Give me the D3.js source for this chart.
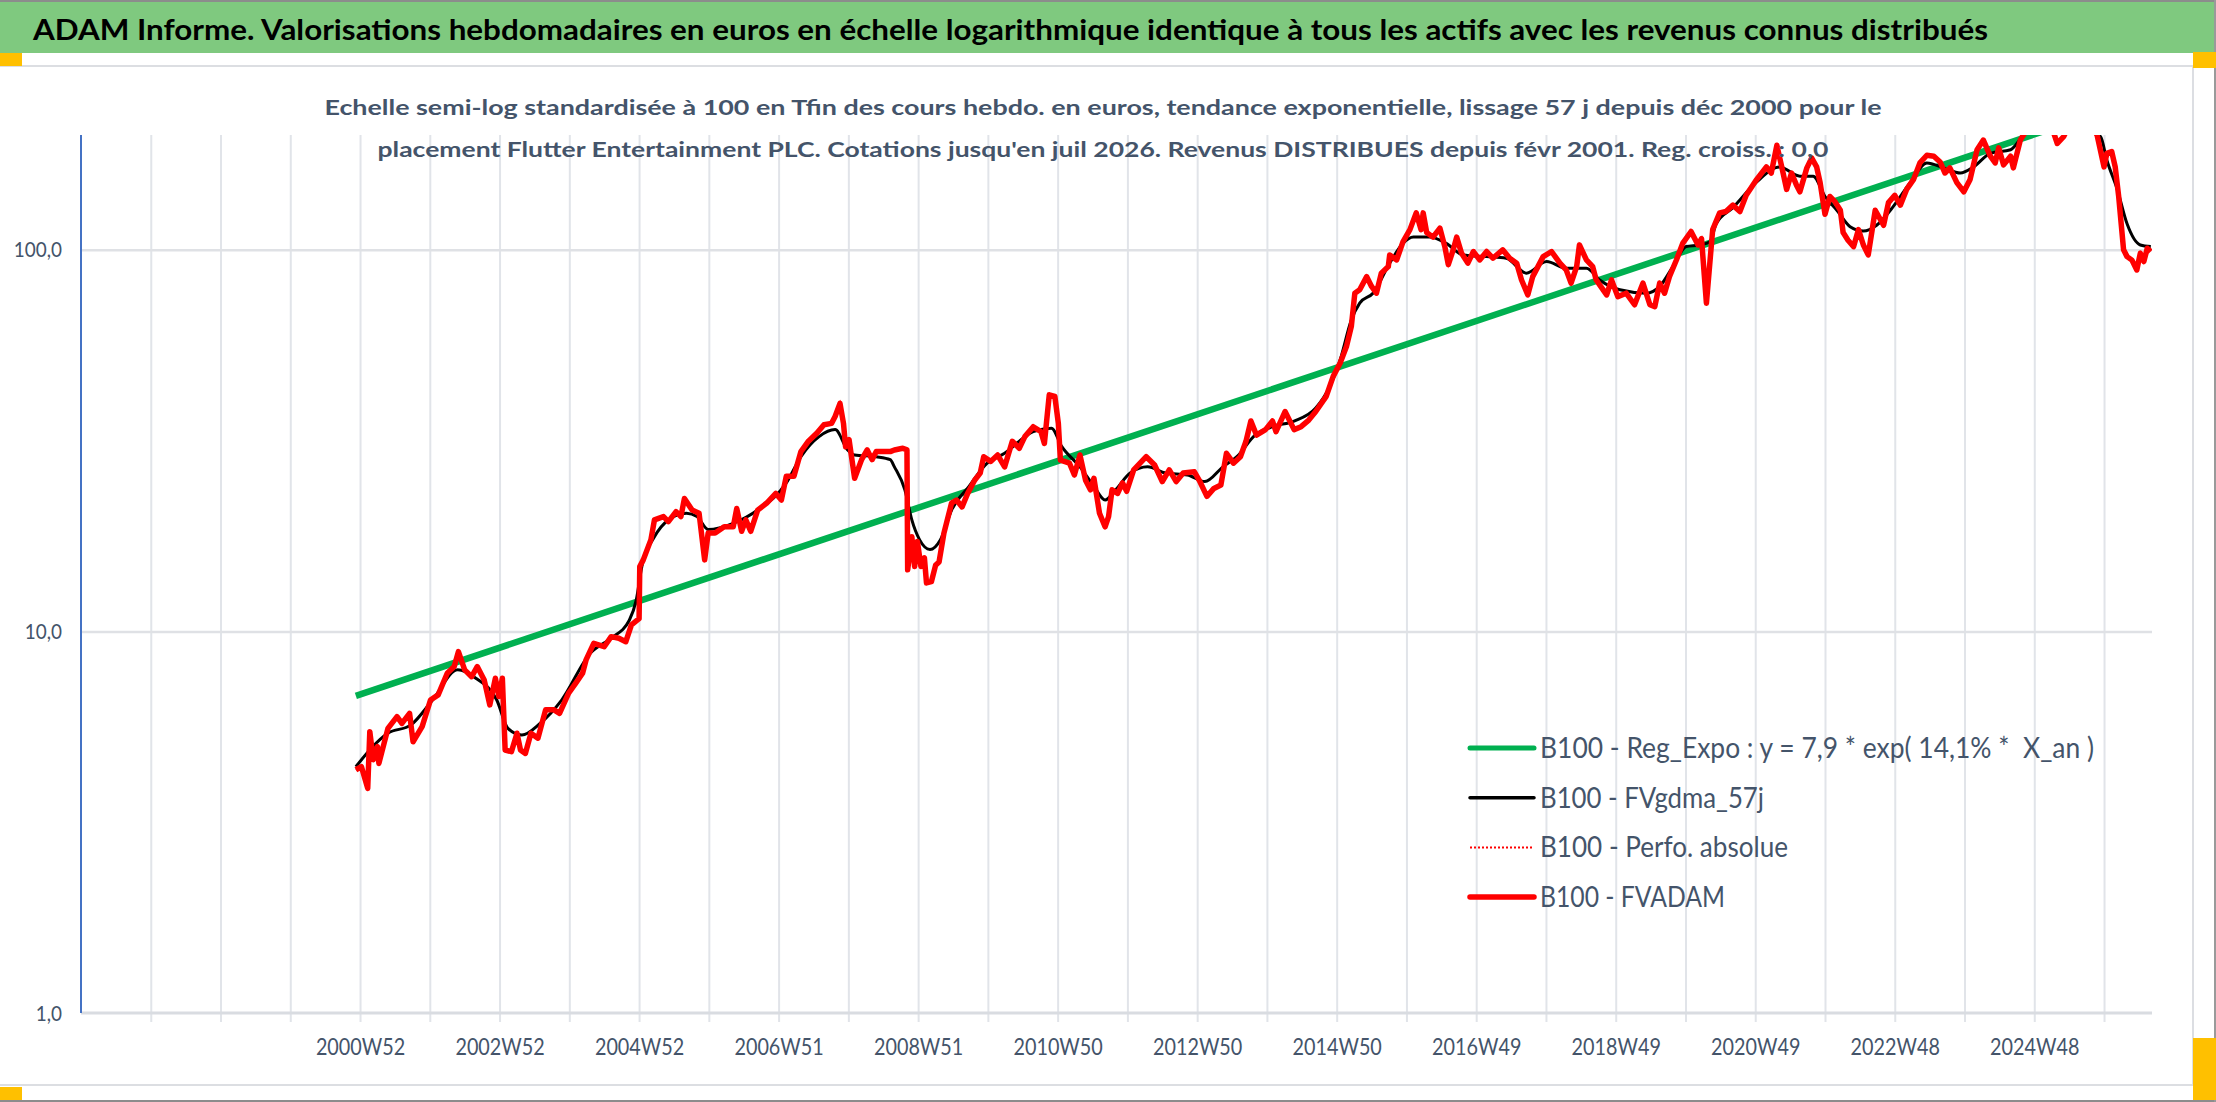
<!DOCTYPE html>
<html>
<head>
<meta charset="utf-8">
<script src="https://cdn.jsdelivr.net/npm/d3@7"></script>
<style>
  body { margin: 0; background: #fff; }
  svg { display: block; font-family: Lato, "Open Sans", sans-serif; }
</style>
</head>
<body>
<script>
// ---- data (year as decimal, value on base 100) ----
var titleText = "ADAM Informe. Valorisations hebdomadaires en euros en échelle logarithmique identique à tous les actifs avec les revenus connus distribués";
var subtitleLines = [
    "Echelle semi-log standardisée à 100 en Tfin des cours hebdo. en euros, tendance exponentielle, lissage 57 j depuis déc 2000 pour le",
    "placement Flutter Entertainment PLC. Cotations jusqu'en juil 2026. Revenus DISTRIBUES depuis févr 2001. Reg. croiss. : 0,0"
];
var tickYears = [2001, 2003, 2005, 2007, 2009, 2011, 2013, 2015, 2017, 2019, 2021, 2023, 2025];
var tickLabels = ["2000W52", "2002W52", "2004W52", "2006W51", "2008W51", "2010W50", "2012W50",
                  "2014W50", "2016W49", "2018W49", "2020W49", "2022W48", "2024W48"];
var gridYears = d3.range(1998, 2027);
var yTicks = [1, 10, 100];

var legendLabels = [
    "B100 - Reg_Expo : y = 7,9 * exp( 14,1% *  X_an )",
    "B100 - FVgdma_57j",
    "B100 - Perfo. absolue",
    "B100 - FVADAM"
];

// exponential trend : both ends of the straight log line
var regExpo = [[2000.94, 6.78], [2026.67, 254]];

// 57 day smoothed curve
var fvgdma = [
    [2000.94, 4.42], [2001.40, 5.41], [2001.73, 5.69], [2002.04, 6.61], [2002.40, 7.93], [2002.66, 7.54],
    [2002.96, 6.61], [2003.12, 5.57], [2003.32, 5.35], [2003.58, 5.74], [2003.89, 6.61], [2004.30, 8.77],
    [2004.60, 9.60], [2004.86, 10.7], [2004.96, 12.1], [2005.04, 14.8], [2005.22, 17.7], [2005.42, 19.6],
    [2005.68, 20.4], [2005.83, 20.0], [2005.99, 18.5], [2006.35, 19.2], [2006.70, 20.8], [2007.11, 24.5],
    [2007.32, 28.7], [2007.58, 32.4], [2007.81, 33.8], [2007.99, 29.9], [2008.09, 29.0], [2008.40, 28.7],
    [2008.60, 28.2], [2008.66, 27.0], [2008.81, 23.5], [2008.91, 19.6], [2009.02, 17.4], [2009.17, 16.4],
    [2009.32, 17.4], [2009.48, 20.8], [2009.73, 24.0], [2009.99, 27.6], [2010.24, 29.3], [2010.65, 33.4],
    [2010.91, 34.1], [2011.06, 30.5], [2011.32, 27.0], [2011.52, 24.0], [2011.68, 22.1], [2011.83, 23.5],
    [2012.04, 26.0], [2012.29, 27.0], [2012.55, 26.0], [2012.86, 25.7], [2013.11, 24.7], [2013.37, 27.0],
    [2013.57, 28.7], [2013.83, 32.7], [2014.08, 34.4], [2014.39, 35.6], [2014.70, 38.5], [2014.90, 43.8],
    [2015.05, 51.5], [2015.21, 65.5], [2015.33, 72.5], [2015.52, 77.0], [2015.76, 92.3], [2015.95, 104],
    [2016.10, 108], [2016.33, 108], [2016.57, 104], [2016.81, 97], [2017.15, 96], [2017.43, 95.1],
    [2017.72, 86.9], [2018.01, 93.2], [2018.29, 89.5], [2018.58, 89.5], [2018.77, 83.4], [2019.06, 78.6],
    [2019.44, 77.0], [2019.63, 80.2], [2019.82, 90.4], [2020.01, 102], [2020.20, 103], [2020.35, 105],
    [2020.44, 117], [2020.68, 129], [2021.01, 150], [2021.35, 165], [2021.64, 156], [2021.83, 156],
    [2022.00, 138], [2022.17, 127], [2022.36, 115], [2022.55, 112], [2022.74, 116], [2022.98, 130],
    [2023.22, 150], [2023.46, 169], [2023.70, 164], [2023.94, 159], [2024.13, 165], [2024.37, 179],
    [2024.66, 183], [2024.85, 200], [2025.13, 212], [2025.61, 212], [2025.95, 198], [2026.04, 172],
    [2026.19, 144], [2026.33, 117], [2026.52, 103], [2026.67, 102]
];

// weekly valuation (FVADAM), also used for "Perfo. absolue" which lies under it
var fvadam = [
    [2000.94, 4.34], [2001.02, 4.42], [2001.11, 3.88], [2001.14, 5.46], [2001.19, 4.61], [2001.25, 4.99],
    [2001.27, 4.51], [2001.40, 5.57], [2001.53, 5.98], [2001.60, 5.74], [2001.71, 6.10], [2001.76, 5.14],
    [2001.89, 5.63], [2002.01, 6.61], [2002.12, 6.82], [2002.25, 7.77], [2002.35, 8.09], [2002.41, 8.85],
    [2002.50, 7.93], [2002.60, 7.61], [2002.68, 8.09], [2002.78, 7.46], [2002.86, 6.42], [2002.94, 7.54],
    [2002.99, 6.75], [2003.04, 7.54], [2003.08, 4.89], [2003.17, 4.84], [2003.25, 5.41], [2003.30, 4.89],
    [2003.37, 4.79], [2003.45, 5.41], [2003.55, 5.25], [2003.66, 6.23], [2003.78, 6.23], [2003.86, 6.10],
    [2003.99, 6.89], [2004.09, 7.31], [2004.19, 7.77], [2004.24, 8.42], [2004.35, 9.31], [2004.50, 9.12],
    [2004.60, 9.69], [2004.71, 9.60], [2004.81, 9.40], [2004.89, 10.4], [2005.00, 10.8], [2005.01, 14.8],
    [2005.06, 15.4], [2005.17, 17.4], [2005.22, 19.6], [2005.35, 20.0], [2005.42, 19.4], [2005.53, 20.6],
    [2005.60, 20.0], [2005.65, 22.3], [2005.76, 20.8], [2005.86, 20.4], [2005.94, 15.4], [2005.99, 18.1],
    [2006.09, 18.1], [2006.22, 18.8], [2006.35, 18.8], [2006.40, 21.0], [2006.47, 18.3], [2006.53, 19.6],
    [2006.60, 18.3], [2006.70, 20.8], [2006.83, 21.7], [2006.96, 23.0], [2007.04, 22.1], [2007.11, 25.5],
    [2007.22, 25.5], [2007.32, 29.6], [2007.42, 31.4], [2007.55, 33.1], [2007.65, 34.8], [2007.76, 35.1],
    [2007.81, 36.6], [2007.88, 39.6], [2007.93, 35.1], [2007.96, 30.5], [2008.01, 31.8], [2008.09, 25.2],
    [2008.19, 28.2], [2008.27, 29.9], [2008.34, 28.2], [2008.40, 29.6], [2008.60, 29.6], [2008.66, 29.9],
    [2008.78, 30.2], [2008.84, 29.9], [2008.85, 14.5], [2008.91, 17.7], [2008.95, 14.8], [2008.99, 17.2],
    [2009.04, 14.8], [2009.09, 15.6], [2009.12, 13.4], [2009.19, 13.5], [2009.25, 14.9], [2009.30, 15.2],
    [2009.37, 18.1], [2009.48, 21.7], [2009.55, 22.1], [2009.63, 21.2], [2009.71, 23.0], [2009.81, 24.9],
    [2009.89, 26.0], [2009.94, 28.7], [2010.04, 27.9], [2010.14, 29.0], [2010.24, 27.0], [2010.35, 31.5],
    [2010.45, 30.2], [2010.53, 32.4], [2010.65, 34.4], [2010.76, 33.4], [2010.81, 31.1], [2010.88, 41.7],
    [2010.96, 41.3], [2011.01, 35.1], [2011.04, 28.1], [2011.17, 27.6], [2011.24, 25.7], [2011.32, 29.0],
    [2011.40, 24.9], [2011.47, 23.5], [2011.52, 25.2], [2011.60, 20.4], [2011.68, 18.8], [2011.73, 20.0],
    [2011.78, 23.5], [2011.86, 23.0], [2011.93, 24.5], [2011.99, 23.3], [2012.09, 26.5], [2012.27, 28.7],
    [2012.39, 27.3], [2012.50, 24.7], [2012.60, 26.5], [2012.70, 24.7], [2012.80, 26.0], [2012.96, 26.2],
    [2013.03, 24.9], [2013.14, 22.6], [2013.24, 23.7], [2013.34, 24.2], [2013.42, 29.3], [2013.52, 27.6],
    [2013.62, 28.7], [2013.70, 31.5], [2013.77, 35.6], [2013.85, 32.7], [2013.98, 33.8], [2014.08, 35.6],
    [2014.13, 33.4], [2014.26, 37.7], [2014.39, 33.8], [2014.49, 34.4], [2014.60, 35.8], [2014.70, 37.7],
    [2014.85, 41.3], [2014.95, 46.6], [2015.05, 50.5], [2015.14, 55.8], [2015.21, 63.0], [2015.26, 77.0],
    [2015.33, 78.6], [2015.43, 85.1], [2015.50, 80.2], [2015.57, 77.0], [2015.64, 86.9], [2015.74, 90.4],
    [2015.76, 97.0], [2015.86, 94.1], [2015.95, 105], [2016.05, 113], [2016.14, 125], [2016.21, 113],
    [2016.24, 125], [2016.29, 111], [2016.38, 108], [2016.48, 114], [2016.55, 102], [2016.60, 91.5],
    [2016.67, 100], [2016.72, 108], [2016.79, 98], [2016.88, 92.3], [2016.96, 99], [2017.05, 94.1],
    [2017.15, 99], [2017.24, 95.1], [2017.38, 100], [2017.48, 95.1], [2017.58, 92.3], [2017.65, 83.4],
    [2017.74, 76.2], [2017.81, 85.1], [2017.96, 96.0], [2018.08, 99], [2018.20, 92.3], [2018.29, 88.6],
    [2018.36, 81.8], [2018.44, 90.4], [2018.48, 103], [2018.58, 94.1], [2018.67, 90.4], [2018.72, 83.4],
    [2018.87, 76.2], [2018.94, 83.4], [2019.03, 75.4], [2019.15, 77.0], [2019.27, 71.8], [2019.39, 81.8],
    [2019.49, 71.8], [2019.56, 71.0], [2019.63, 81.8], [2019.70, 77.0], [2019.77, 85.1], [2019.87, 94.1],
    [2019.96, 104], [2020.08, 111.7], [2020.18, 103], [2020.23, 107], [2020.30, 72.5], [2020.39, 113],
    [2020.49, 125], [2020.58, 126], [2020.68, 131], [2020.78, 126], [2020.87, 139], [2021.01, 152],
    [2021.16, 165], [2021.23, 159], [2021.31, 188], [2021.38, 165], [2021.45, 144], [2021.52, 159],
    [2021.59, 148], [2021.64, 142], [2021.74, 164], [2021.81, 174], [2021.88, 165], [2021.93, 150],
    [2022.00, 124], [2022.07, 138], [2022.14, 134], [2022.22, 127], [2022.26, 111], [2022.33, 106],
    [2022.41, 102], [2022.48, 113], [2022.55, 103], [2022.62, 97], [2022.72, 127], [2022.84, 116],
    [2022.91, 133], [2023.00, 139], [2023.08, 131], [2023.17, 144], [2023.27, 153], [2023.36, 169],
    [2023.46, 177], [2023.56, 176], [2023.65, 170], [2023.72, 159], [2023.79, 164], [2023.89, 150],
    [2023.99, 142], [2024.08, 153], [2024.18, 183], [2024.27, 194], [2024.37, 176], [2024.44, 169],
    [2024.49, 185], [2024.56, 167], [2024.66, 176], [2024.70, 164], [2024.80, 194], [2024.89, 206],
    [2025.09, 225], [2025.23, 215], [2025.33, 190], [2025.42, 198], [2025.57, 225], [2025.76, 220],
    [2025.90, 200], [2026.00, 165], [2026.04, 179], [2026.11, 181], [2026.16, 165], [2026.21, 138],
    [2026.28, 100], [2026.33, 96], [2026.40, 94], [2026.47, 88.6], [2026.52, 98], [2026.57, 93.2],
    [2026.62, 101], [2026.67, 99]
];

// ---- layout ----
var W = 2216, H = 1102;
var plot = {left: 81, right: 2152, top: 135, bottom: 1013};
var textColor = "#44546a";

var svg = d3.select("body").append("svg")
    .attr("width", W)
    .attr("height", H);

// condense a text selection horizontally (the source font is narrow)
function condense(sel, factor) {
    sel.each(function() {
        var len = this.getComputedTextLength();
        d3.select(this)
            .attr("textLength", len * factor)
            .attr("lengthAdjust", "spacingAndGlyphs");
    });
}

// sheet frame, title banner and selection handles
svg.append("rect").attr("x", 0).attr("y", 0).attr("width", W).attr("height", H).attr("fill", "#fff");
svg.append("rect").attr("x", 0).attr("y", 0).attr("width", W).attr("height", 2).attr("fill", "#8c8c8c");
svg.append("rect").attr("x", 0).attr("y", 2).attr("width", W).attr("height", 51).attr("fill", "#7fc97f");
svg.append("rect").attr("x", 0).attr("y", H - 2).attr("width", W).attr("height", 2).attr("fill", "#8c8c8c");
svg.append("rect")
    .attr("x", -2).attr("y", 66).attr("width", 2195).attr("height", 1019)
    .attr("fill", "#fff")
    .attr("stroke", "#dcdee2")
    .attr("stroke-width", 2);
svg.append("line").attr("x1", W - 1).attr("x2", W - 1).attr("y1", 0).attr("y2", H)
    .attr("stroke", "#9a9a9a").attr("stroke-width", 2);

var handles = [[0, 53, 22, 13], [2193, 52, 23, 16], [0, 1087, 22, 13], [2193, 1038, 23, 62]];
svg.selectAll("rect.handle").data(handles)
    .enter().append("rect")
    .attr("class", "handle")
    .attr("x", function(d) { return d[0]; })
    .attr("y", function(d) { return d[1]; })
    .attr("width", function(d) { return d[2]; })
    .attr("height", function(d) { return d[3]; })
    .attr("fill", "#ffc000");

svg.append("text")
    .attr("x", 33).attr("y", 40)
    .attr("font-size", 29)
    .attr("font-weight", "bold")
    .attr("fill", "#000")
    .attr("textLength", 1955)
    .attr("lengthAdjust", "spacingAndGlyphs")
    .text(titleText);

// ---- scales ----
var x = d3.scaleLinear()
    .domain([1997, 1997 + (plot.right - plot.left) / 69.76])
    .range([plot.left, plot.right]);

var y = d3.scaleLog()
    .domain([1, 200])
    .range([plot.bottom, plot.top]);

// ---- grid ----
var vGrid = svg.append("g")
    .attr("transform", "translate(0," + (plot.bottom + 9) + ")")
    .call(d3.axisBottom(x).tickValues(gridYears).tickSize(-(plot.bottom - plot.top + 9)).tickFormat(""));
vGrid.select(".domain").remove();
vGrid.selectAll("line").attr("stroke", "#e1e4e9").attr("stroke-width", 2);

var hGrid = svg.append("g")
    .attr("transform", "translate(" + plot.left + ",0)")
    .call(d3.axisLeft(y).tickValues([10, 100]).tickSize(-(plot.right - plot.left)).tickFormat(""));
hGrid.select(".domain").remove();
hGrid.selectAll("line").attr("stroke", "#dfe1e5").attr("stroke-width", 2.5);

svg.append("line")
    .attr("x1", plot.left).attr("x2", plot.right)
    .attr("y1", y(1)).attr("y2", y(1))
    .attr("stroke", "#d9dce1")
    .attr("stroke-width", 3);

// ---- axes labels ----
var yAxis = svg.append("g")
    .attr("transform", "translate(" + plot.left + ",0)")
    .call(d3.axisLeft(y).tickValues(yTicks).tickSize(0).tickPadding(19)
        .tickFormat(function(d) { return d3.format(".1f")(d).replace(".", ","); }));
yAxis.select(".domain").remove();
yAxis.selectAll("text")
    .attr("font-family", "Lato, sans-serif")
    .attr("font-size", 22)
    .attr("fill", textColor)
    .call(condense, 0.86);

svg.append("line")
    .attr("x1", plot.left).attr("x2", plot.left)
    .attr("y1", plot.top).attr("y2", plot.bottom)
    .attr("stroke", "#4472c4")
    .attr("stroke-width", 2);

var xAxis = svg.append("g")
    .attr("transform", "translate(0," + plot.bottom + ")")
    .call(d3.axisBottom(x).tickValues(tickYears).tickSize(0).tickPadding(26)
        .tickFormat(function(d, i) { return tickLabels[i]; }));
xAxis.select(".domain").remove();
xAxis.selectAll("text")
    .attr("font-family", "Lato, sans-serif")
    .attr("font-size", 23)
    .attr("fill", textColor)
    .call(condense, 0.86);

// ---- series ----
svg.append("clipPath").attr("id", "plotClip")
    .append("rect")
    .attr("x", plot.left).attr("y", plot.top)
    .attr("width", plot.right - plot.left).attr("height", plot.bottom - plot.top);

var series = svg.append("g").attr("clip-path", "url(#plotClip)");

var line = d3.line()
    .x(function(d) { return x(d[0]); })
    .y(function(d) { return y(d[1]); });

var smoothLine = d3.line()
    .curve(d3.curveMonotoneX)
    .x(function(d) { return x(d[0]); })
    .y(function(d) { return y(d[1]); });

series.append("path").datum(regExpo)
    .attr("d", line)
    .attr("fill", "none")
    .attr("stroke", "#00b050")
    .attr("stroke-width", 6.5);

series.append("path").datum(fvgdma)
    .attr("d", smoothLine)
    .attr("fill", "none")
    .attr("stroke", "#000")
    .attr("stroke-width", 3);

series.append("path").datum(fvadam)
    .attr("d", line)
    .attr("fill", "none")
    .attr("stroke", "#ff0000")
    .attr("stroke-width", 2)
    .attr("stroke-dasharray", "2,3");

series.append("path").datum(fvadam)
    .attr("d", line)
    .attr("fill", "none")
    .attr("stroke", "#ff0000")
    .attr("stroke-width", 5.5)
    .attr("stroke-linejoin", "round");

// ---- subtitle (sits over the plot top) ----
var subLengths = [1557, 1451];
svg.selectAll("text.subtitle").data(subtitleLines)
    .enter().append("text")
    .attr("class", "subtitle")
    .attr("x", 1103)
    .attr("y", function(d, i) { return 115 + i * 42; })
    .attr("text-anchor", "middle")
    .attr("font-size", 21)
    .attr("font-weight", "bold")
    .attr("fill", textColor)
    .attr("textLength", function(d, i) { return subLengths[i]; })
    .attr("lengthAdjust", "spacingAndGlyphs")
    .text(function(d) { return d; });

// ---- legend ----
var legendStyles = [
    {color: "#00b050", width: 5, dash: null},
    {color: "#000", width: 3.5, dash: null},
    {color: "#ff0000", width: 2, dash: "2,2"},
    {color: "#ff0000", width: 5.5, dash: null}
];
var legendLengths = [554, 224, 248, 185];

var legend = svg.append("g").attr("transform", "translate(1470,748)");
var rows = legend.selectAll("g").data(legendLabels)
    .enter().append("g")
    .attr("transform", function(d, i) { return "translate(0," + (i * 49.7) + ")"; });

rows.append("line")
    .attr("x1", 0).attr("x2", 64)
    .attr("stroke", function(d, i) { return legendStyles[i].color; })
    .attr("stroke-width", function(d, i) { return legendStyles[i].width; })
    .attr("stroke-dasharray", function(d, i) { return legendStyles[i].dash; })
    .attr("stroke-linecap", function(d, i) { return legendStyles[i].dash ? "butt" : "round"; });

rows.append("text")
    .attr("x", 70)
    .attr("y", 10)
    .attr("font-size", 28)
    .attr("fill", textColor)
    .attr("xml:space", "preserve")
    .attr("textLength", function(d, i) { return legendLengths[i]; })
    .attr("lengthAdjust", "spacingAndGlyphs")
    .text(function(d) { return d; });
</script>
</body>
</html>
